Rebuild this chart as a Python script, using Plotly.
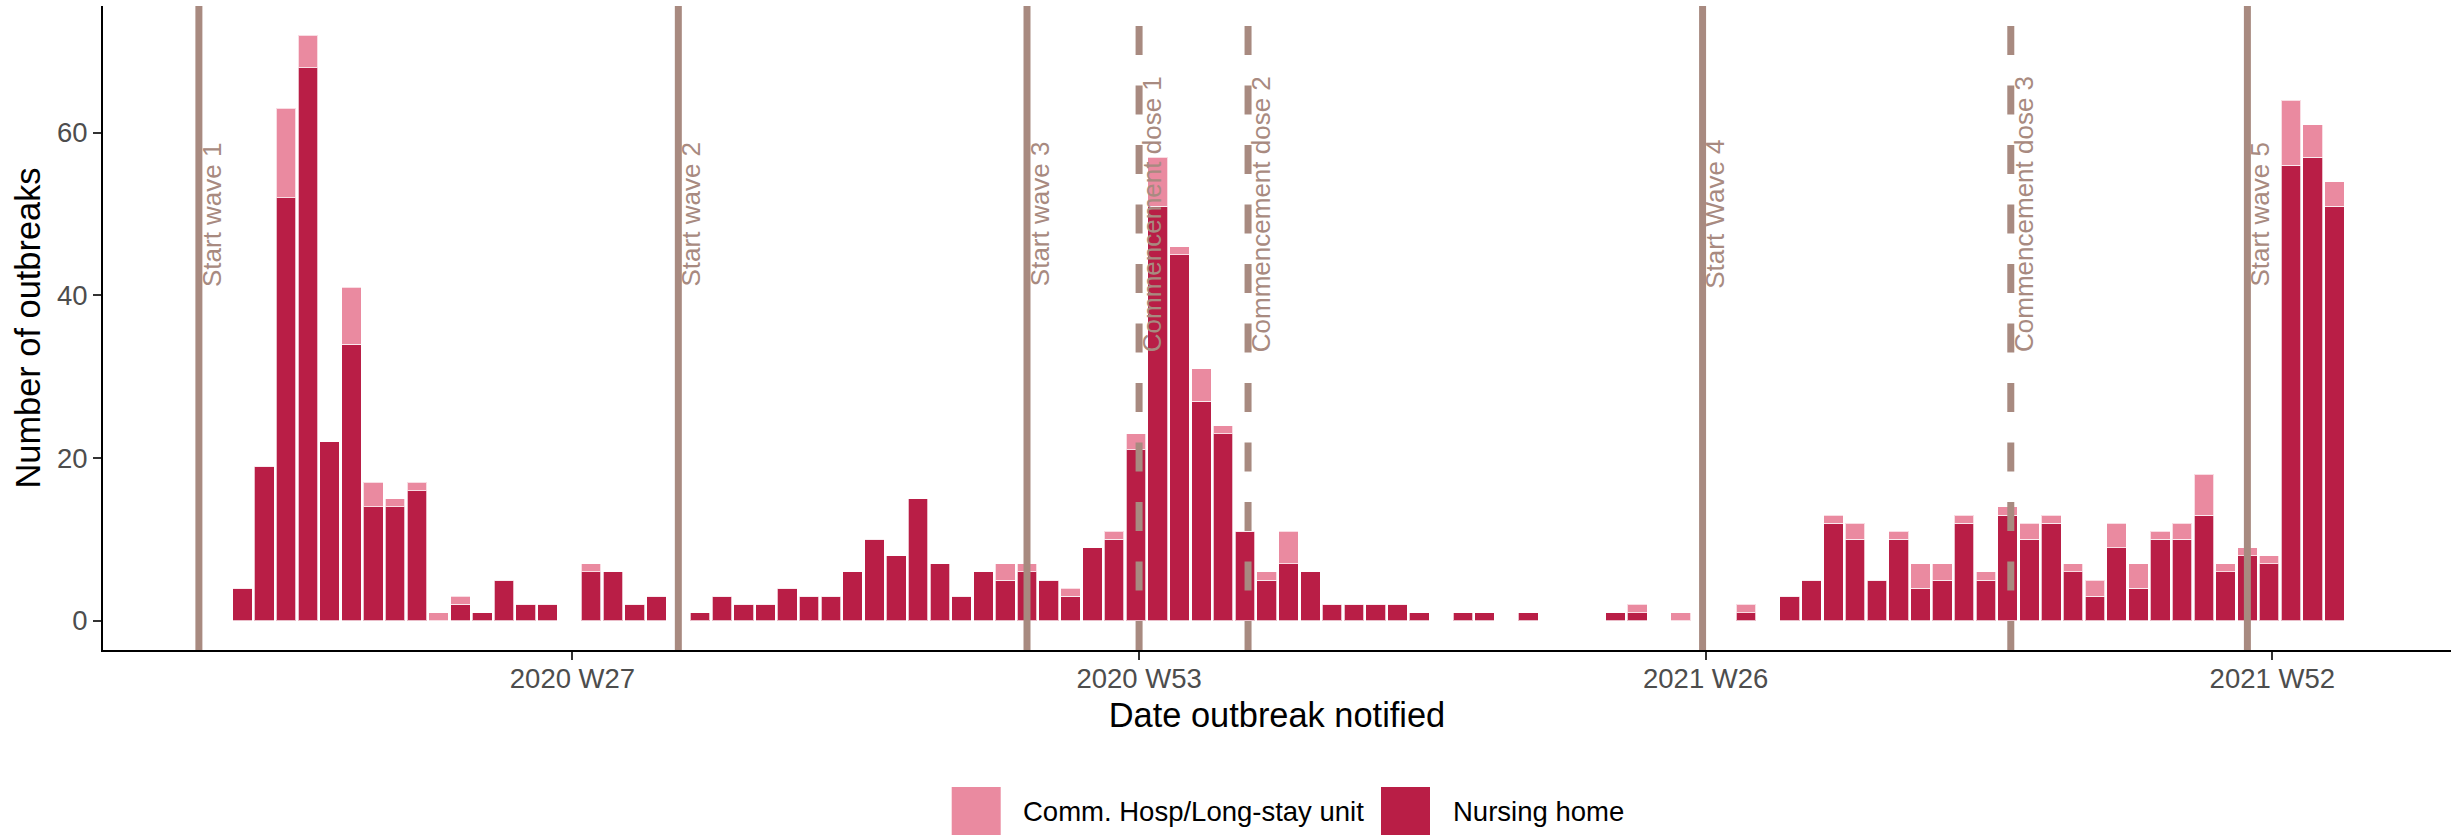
import plotly.graph_objects as go
from datetime import datetime, timedelta

# ---------------- data ----------------
weeks = [
    "2020 W12", "2020 W13", "2020 W14", "2020 W15", "2020 W16", "2020 W17", "2020 W18", "2020 W19",
    "2020 W20", "2020 W21", "2020 W22", "2020 W23", "2020 W24", "2020 W25", "2020 W26", "2020 W27",
    "2020 W28", "2020 W29", "2020 W30", "2020 W31", "2020 W32", "2020 W33", "2020 W34", "2020 W35",
    "2020 W36", "2020 W37", "2020 W38", "2020 W39", "2020 W40", "2020 W41", "2020 W42", "2020 W43",
    "2020 W44", "2020 W45", "2020 W46", "2020 W47", "2020 W48", "2020 W49", "2020 W50", "2020 W51",
    "2020 W52", "2020 W53",
    "2021 W1", "2021 W2", "2021 W3", "2021 W4", "2021 W5", "2021 W6", "2021 W7", "2021 W8",
    "2021 W9", "2021 W10", "2021 W11", "2021 W12", "2021 W13", "2021 W14", "2021 W15", "2021 W16",
    "2021 W17", "2021 W18", "2021 W19", "2021 W20", "2021 W21", "2021 W22", "2021 W23", "2021 W24",
    "2021 W25", "2021 W26", "2021 W27", "2021 W28", "2021 W29", "2021 W30", "2021 W31", "2021 W32",
    "2021 W33", "2021 W34", "2021 W35", "2021 W36", "2021 W37", "2021 W38", "2021 W39", "2021 W40",
    "2021 W41", "2021 W42", "2021 W43", "2021 W44", "2021 W45", "2021 W46", "2021 W47", "2021 W48",
    "2021 W49", "2021 W50", "2021 W51", "2021 W52",
    "2022 W1", "2022 W2", "2022 W3",
]

nursing_home = [
    4, 19, 52, 68, 22, 34, 14, 14,
    16, 0, 2, 1, 5, 2, 2, 0,
    6, 6, 2, 3, 0, 1, 3, 2,
    2, 4, 3, 3, 6, 10, 8, 15,
    7, 3, 6, 5, 6, 5, 3, 9,
    10, 21,
    51, 45, 27, 23, 11, 5, 7, 6,
    2, 2, 2, 2, 1, 0, 1, 1,
    0, 1, 0, 0, 0, 1, 1, 0,
    0, 0, 0, 1, 0, 3, 5, 12,
    10, 5, 10, 4, 5, 12, 5, 13,
    10, 12, 6, 3, 9, 4, 10, 10,
    13, 6, 8, 7,
    56, 57, 51,
]

comm_hosp = [
    0, 0, 11, 4, 0, 7, 3, 1,
    1, 1, 1, 0, 0, 0, 0, 0,
    1, 0, 0, 0, 0, 0, 0, 0,
    0, 0, 0, 0, 0, 0, 0, 0,
    0, 0, 0, 2, 1, 0, 1, 0,
    1, 2,
    6, 1, 4, 1, 0, 1, 4, 0,
    0, 0, 0, 0, 0, 0, 0, 0,
    0, 0, 0, 0, 0, 0, 1, 0,
    1, 0, 0, 1, 0, 0, 0, 1,
    2, 0, 1, 3, 2, 1, 1, 1,
    2, 1, 1, 2, 3, 3, 1, 2,
    5, 1, 1, 1,
    8, 4, 3,
]

event_labels = ["Start wave 1", "Start wave 2", "Start wave 3", "Commencement dose 1",
                "Commencement dose 2", "Start Wave 4", "Commencement dose 3", "Start wave 5"]
event_dates = ["2020-03-02", "2020-08-03", "2020-11-23", "2020-12-29",
               "2021-02-02", "2021-06-28", "2021-10-05", "2021-12-20"]
event_dashed = [False, False, False, True, True, False, True, False]

tick_labels = ["2020 W27", "2020 W53", "2021 W26", "2021 W52"]
y_ticks = [0, 20, 40, 60]

# ---------------- styling ----------------
FONT = "Liberation Sans, Arial, sans-serif"
DARK = "#B91E46"
PINK = "#EA8AA0"
EVENT = "#A88A80"

W, H = 2463, 835
ML, MR, MT, MB = 103, 12, 6, 185
PW = W - ML - MR
PH = H - MT - MB


def week_start(lbl):
    y, w = lbl.split(" W")
    return datetime.fromisocalendar(int(y), int(w), 1)


x = [week_start(w) for w in weeks]
tick_vals = [week_start(t) + timedelta(days=1) for t in tick_labels]

anchor = week_start("2020 W53")
x_range = [(anchor - timedelta(days=331.8)).isoformat(), (anchor + timedelta(days=422.4)).isoformat()]

fig = go.Figure()
fig.add_bar(x=x, y=nursing_home, name="Nursing home",
            marker=dict(color=DARK, line=dict(color="rgba(255,255,255,0.7)", width=1)))
fig.add_bar(x=x, y=comm_hosp, name="Comm. Hosp/Long-stay unit",
            marker=dict(color=PINK, line=dict(color="rgba(255,255,255,0.7)", width=1)))

shapes = []
annotations = []
for lbl, d, dashed in zip(event_labels, event_dates, event_dashed):
    shapes.append(dict(type="line", xref="x", yref="paper", x0=d, x1=d, y0=0, y1=1,
                       line=dict(color=EVENT, width=7, dash="29px,30.5px" if dashed else "solid"),
                       layer="above"))
    annotations.append(dict(x=d, y=50, xref="x", yref="y", text=lbl, textangle=-90,
                            xanchor="left", yanchor="middle", showarrow=False, xshift=-4,
                            font=dict(family=FONT, size=26, color=EVENT)))


def px_x(px):
    return (px - ML) / PW


def px_y(py):
    return (H - MB - py) / PH


legend_items = [("Comm. Hosp/Long-stay unit", PINK, 951.7, 1020.7),
                ("Nursing home", DARK, 1381.0, 1450.7)]
for name, col, kx, tx in legend_items:
    shapes.append(dict(type="rect", xref="paper", yref="paper",
                       x0=px_x(kx), x1=px_x(kx + 49), y0=px_y(835), y1=px_y(787),
                       fillcolor=col, line=dict(width=0), layer="above"))
    annotations.append(dict(x=px_x(tx), y=px_y(811), xref="paper", yref="paper", text=name,
                            xanchor="left", yanchor="middle", showarrow=False,
                            font=dict(family=FONT, size=27.5, color="black")))

fig.update_layout(
    width=W, height=H,
    margin=dict(l=ML, r=MR, t=MT, b=MB, autoexpand=False),
    barmode="stack", bargap=0.1,
    plot_bgcolor="white", paper_bgcolor="white",
    showlegend=False,
    shapes=shapes, annotations=annotations,
    font=dict(family=FONT),
    xaxis=dict(type="date", range=x_range, tickmode="array", tickvals=tick_vals, ticktext=tick_labels,
               showline=True, linecolor="black", linewidth=2, ticks="outside", ticklen=8, tickwidth=2,
               tickcolor="#333333", showgrid=False, zeroline=False, ticklabelstandoff=-5,
               tickfont=dict(family=FONT, size=27.5, color="#4D4D4D"),
               title=dict(text="Date outbreak notified", font=dict(family=FONT, size=34.4, color="black"),
                          standoff=10)),
    yaxis=dict(range=[-3.6, 75.6], tickmode="array", tickvals=y_ticks,
               showline=True, linecolor="black", linewidth=2, ticks="outside", ticklen=8, tickwidth=2,
               tickcolor="#333333", showgrid=False, zeroline=False,
               tickfont=dict(family=FONT, size=27.5, color="#4D4D4D"),
               title=dict(text="Number of outbreaks", font=dict(family=FONT, size=34.4, color="black"),
                          standoff=6)),
)

fig.write_html("out.html", config={"displayModeBar": False},
               post_script="document.body.style.margin='0';document.body.style.overflow='hidden';")
